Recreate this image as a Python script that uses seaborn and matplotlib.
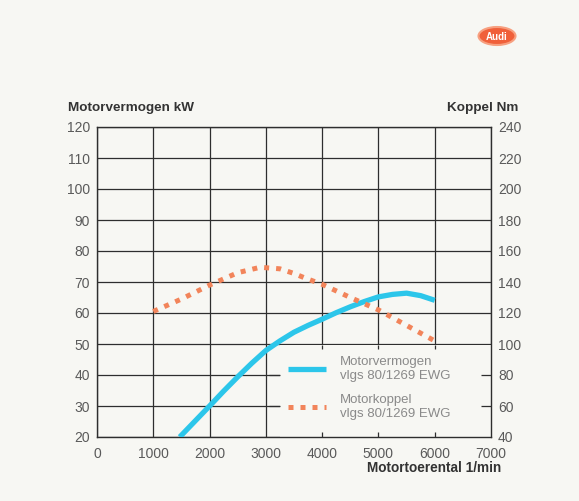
import matplotlib
matplotlib.use("Agg")
import matplotlib.pyplot as plt
from matplotlib.patches import Rectangle, Ellipse
import seaborn as sns

# data
rpm_power = [1470, 2000, 2250, 2500, 2750, 3000, 3250, 3500, 3750, 4000,
             4250, 4500, 4750, 5000, 5250, 5500, 5750, 6000]
power_kw = [20, 30, 34.8, 39.4, 43.8, 47.9, 51, 53.8, 56, 58,
            60.1, 62, 63.7, 65.2, 66, 66.4, 65.6, 64.1]
rpm_torque = [1000, 1500, 2000, 2500, 2900, 3250, 3500, 3700, 4000, 4500,
              5000, 5500, 6000]
torque_nm = [121, 129, 138, 146, 149.5, 148.5, 145.5, 142.5, 138.5, 130,
             122, 112, 102]

x_ticks = [0, 1000, 2000, 3000, 4000, 5000, 6000, 7000]
kw_ticks = [20, 30, 40, 50, 60, 70, 80, 90, 100, 110, 120]
nm_ticks = [40, 60, 80, 100, 120, 140, 160, 180, 200, 220, 240]

label_power = "Motorvermogen\nvlgs 80/1269 EWG"
label_torque = "Motorkoppel\nvlgs 80/1269 EWG"

bg = "#f7f7f3"
blue = "#2cc6ea"
orange = "#f2845a"
grid_c = "#2e2e2e"
text_c = "#5a5a5a"

sns.set_style("white")
plt.rcParams['font.family'] = ['Liberation Sans', 'DejaVu Sans']

fig = plt.figure(figsize=(5.79, 5.01), dpi=100, facecolor=bg)
ax = fig.add_axes([97/579, 1-437/501, (491-97)/579, (437-127)/501])
ax.set_facecolor(bg)
ax.set_axisbelow(True)
ax.set_xlim(0, 7000)
ax.set_ylim(20, 120)
ax.set_xticks(x_ticks)
ax.set_yticks(kw_ticks)
ax.grid(True, color=grid_c, linewidth=0.9)
for s in ax.spines.values():
    s.set_color(grid_c)
    s.set_linewidth(1.0)
ax.tick_params(axis="y", length=0, labelsize=10, labelcolor=text_c, pad=5)
ax.tick_params(axis="x", length=0, labelsize=10, labelcolor=text_c, pad=7)

# blank area for the legend, grid stubs kept
box_x0, box_y0, box_y1 = 3250, 20, 49.6
ax.add_patch(Rectangle((box_x0, box_y0), 7000 - box_x0, box_y1 - box_y0,
                       facecolor=bg, edgecolor="none", zorder=1))
stub_x = [t for t in x_ticks if box_x0 < t < 7000]
ax.vlines(stub_x, box_y0, box_y0 + 1.5, color=grid_c, linewidth=0.9, zorder=1.5)
ax.vlines(stub_x, box_y1 - 1.3, box_y1, color=grid_c, linewidth=0.9, zorder=1.5)
stub_y = [t for t in kw_ticks if box_y0 < t < box_y1]
ax.hlines(stub_y, 7000 - 180, 7000, color=grid_c, linewidth=0.9, zorder=1.5)
ax.hlines(stub_y, box_x0 - 200, box_x0, color=grid_c, linewidth=0.9, zorder=1.5)

sns.lineplot(x=rpm_power, y=power_kw, ax=ax, color=blue, linewidth=3.8,
             label=label_power, zorder=3, legend=False)
ax.lines[-1].set_solid_capstyle("butt")
ax.lines[-1].set_solid_joinstyle("round")

ax2 = ax.twinx()
ax2.set_ylim(40, 240)
ax2.set_yticks(nm_ticks)
ax2.set_xlim(0, 7000)
for s in ax2.spines.values():
    s.set_visible(False)
ax2.tick_params(length=0, labelsize=10, labelcolor=text_c, pad=5)
sns.lineplot(x=rpm_torque, y=torque_nm, ax=ax2, color=orange, linewidth=3.6,
             linestyle=(0, (1, 1.4)), label=label_torque, zorder=3, legend=False)
for ln in ax2.lines:
    ln.set_dash_capstyle("butt")

handles = ax.get_lines()[-1:] + ax2.get_lines()[-1:]
leg = ax2.legend(handles, [label_power, label_torque], loc="upper left",
                 bbox_to_anchor=(0.485, 0.262), frameon=False, fontsize=9.5,
                 handlelength=2.9, handletextpad=1.0, labelspacing=0.95,
                 borderpad=0, borderaxespad=0, labelcolor="#8a8a8a")

fig.text(68/579, 1-108/501, "Motorvermogen kW", fontsize=9.7, fontweight="bold",
         color="#333333", ha="left", va="center")
fig.text(518/579, 1-108/501, "Koppel Nm", fontsize=9.7, fontweight="bold",
         color="#333333", ha="right", va="center")
fig.text(501/579, 1-468/501, "Motortoerental 1/min", fontsize=9.8, fontweight="bold",
         color="#333333", ha="right", va="center")

# logo
logo = Ellipse((497/579, 1-36/501), 37/579, 18/501, transform=fig.transFigure,
               facecolor="#f0603a", edgecolor="#f7a080", linewidth=1.5)
fig.patches.append(logo)
fig.text(497/579, 1-36.5/501, "Audi", fontsize=7, fontweight="bold", color="white",
         ha="center", va="center")

fig.savefig("out.png", dpi=100, facecolor=bg)
